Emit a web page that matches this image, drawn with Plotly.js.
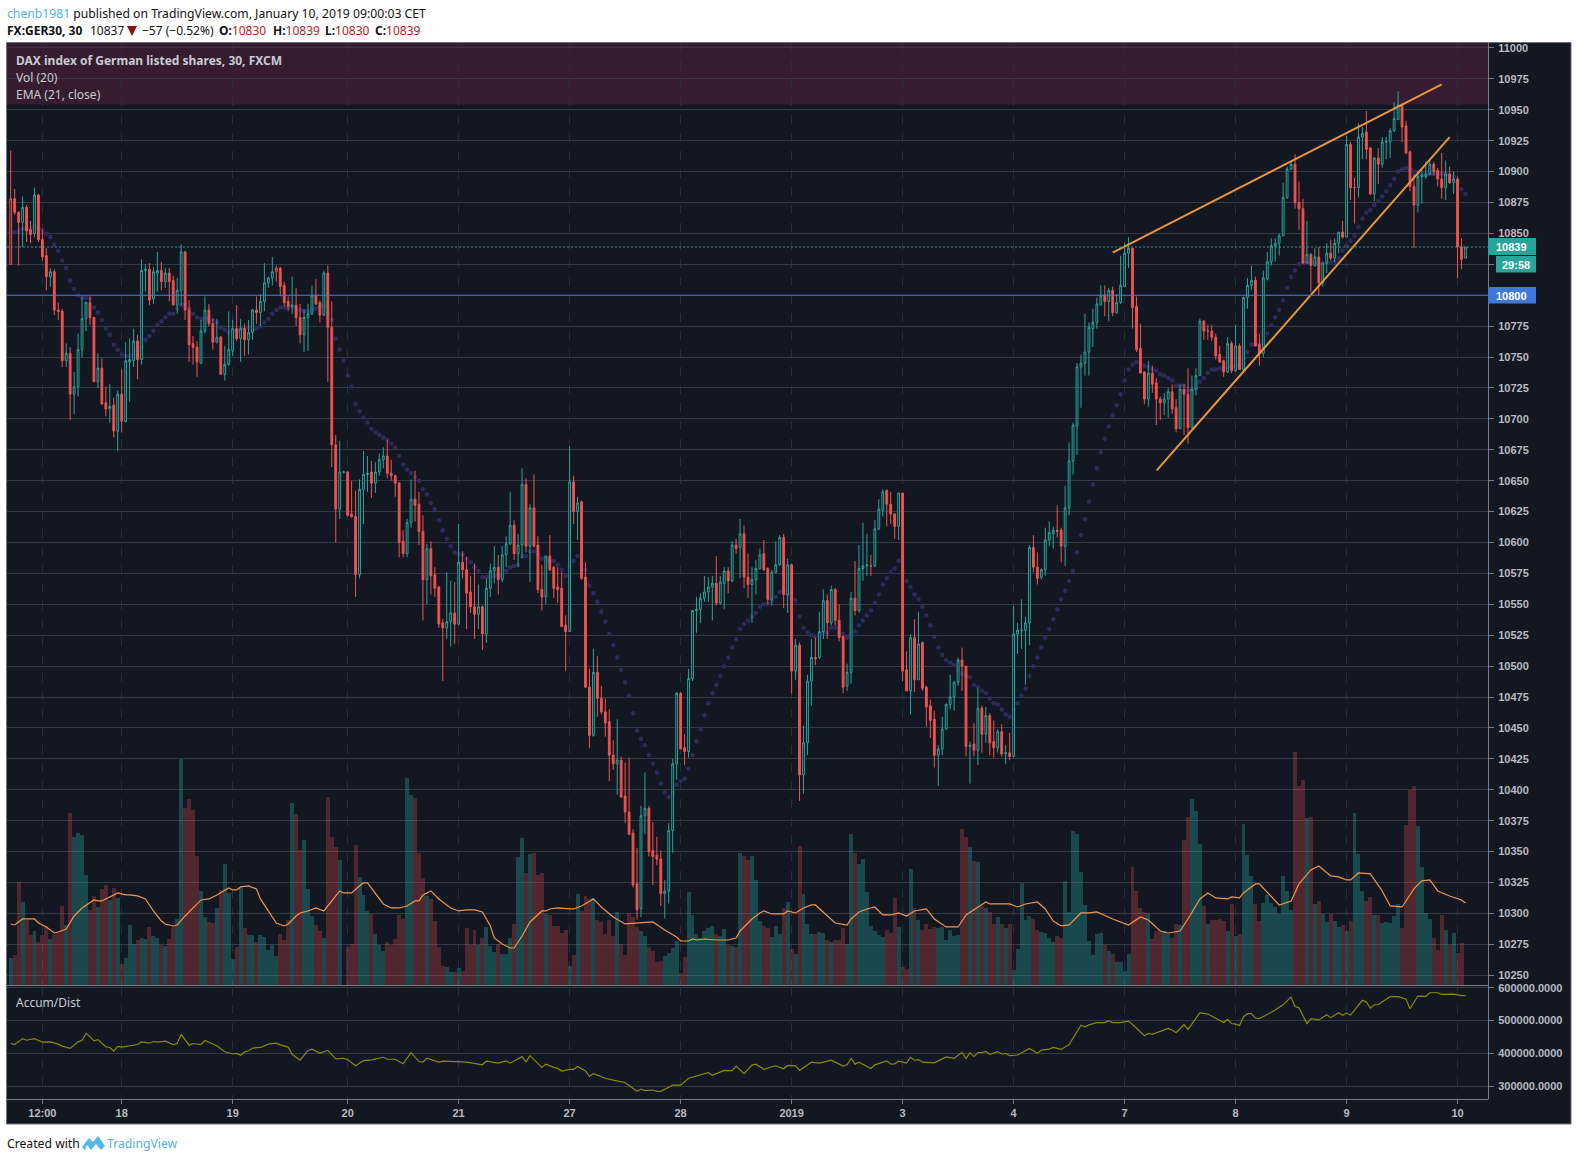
<!DOCTYPE html>
<html><head><meta charset="utf-8">
<script src="https://cdn.plot.ly/plotly-3.0.1.min.js"></script>
<style>html,body{margin:0;padding:0;background:#fff}#c{width:1577px;height:1161px}</style>
</head><body><div id="c"></div>
<script>
// candle rows: open, high, low, close
const candlesA=[[10825,10917,10825,10878],[10878,10886,10865,10867],[10867,10868,10824,10859],[10859,10880,10839,10871],[10871,10873,10843,10852],[10853,10860,10842,10849],[10850,10887,10847,10881],[10881,10882,10843,10845],[10845,10853,10828,10831],[10832,10838,10804,10815],
[10815,10822,10807,10819],[10819,10821,10784,10788],[10788,10794,10780,10787],[10787,10789,10742,10747],[10747,10761,10742,10753],[10753,10758,10699,10720],[10720,10738,10704,10726],[10726,10769,10718,10756],[10756,10799,10750,10781],[10781,10795,10771,10794],
[10794,10799,10776,10782],[10782,10782,10730,10730],[10730,10753,10725,10741],[10741,10749,10712,10712],[10713,10726,10702,10708],[10708,10728,10697,10710],[10711,10717,10685,10690],[10690,10723,10674,10720],[10720,10740,10689,10698],[10698,10762,10697,10747],
[10746,10765,10714,10748],[10747,10773,10742,10763],[10763,10768,10732,10748],[10748,10829,10744,10820],[10820,10825,10803,10821],[10821,10826,10792,10796],[10797,10823,10793,10819],[10818,10835,10803,10820],[10820,10827,10804,10811],[10811,10822,10806,10818],
[10818,10822,10795,10811],[10812,10816,10792,10792],[10792,10814,10785,10804],[10804,10841,10792,10835],[10835,10836,10780,10788],[10788,10796,10746,10760],[10761,10767,10744,10758],[10758,10763,10734,10746],[10745,10780,10745,10771],[10771,10799,10769,10788],
[10788,10793,10775,10777],[10777,10781,10756,10762],[10762,10781,10761,10766],[10766,10767,10736,10736],[10736,10759,10731,10744],[10744,10787,10743,10756],[10755,10780,10751,10773],[10773,10792,10763,10765],[10765,10781,10746,10773],[10773,10777,10751,10764],
[10764,10780,10752,10770],[10770,10789,10764,10788],[10788,10799,10777,10786],[10786,10801,10775,10795],[10795,10826,10787,10810],[10810,10815,10806,10814],[10814,10831,10808,10819],[10819,10824,10811,10822],[10822,10823,10799,10807],[10808,10811,10791,10794],
[10795,10799,10787,10791],[10791,10815,10785,10792],[10792,10806,10775,10782],[10782,10793,10761,10768],[10768,10789,10754,10782],[10782,10793,10755,10785],[10785,10808,10784,10800],[10800,10813,10792,10793],[10794,10796,10778,10784],[10784,10820,10783,10818],
[10818,10824,10730,10774],[10774,10795,10661,10679],[10679,10687,10600,10627]];
const candlesB=[[10627,10682,10619,10657],[10657,10658,10656,10657],[10657,10658,10621,10622],[10623,10650,10620,10621],[10621,10642,10556,10574],[10574,10651,10571,10643],[10643,10674,10615,10655],[10655,10670,10641,10656],[10657,10666,10636,10648],[10648,10665,10640,10657],
[10657,10672,10654,10667],[10667,10677,10660,10670],[10670,10683,10652,10656],[10656,10667,10650,10654],[10654,10655,10637,10648],[10648,10649,10588,10600],[10601,10610,10588,10591],[10591,10619,10588,10616],[10616,10651,10612,10635],[10635,10658,10617,10630],
[10631,10641,10598,10609],[10609,10622,10537,10570],[10570,10599,10550,10595],[10595,10601,10558,10573],[10574,10580,10556,10563],[10564,10565,10531,10534],[10535,10538,10488,10531],[10531,10576,10522,10536],[10536,10569,10516,10543],[10543,10568,10518,10534],
[10534,10615,10533,10584],[10584,10593,10571,10578],[10578,10588,10530,10559],[10560,10573,10543,10548],[10548,10583,10522,10542],[10542,10566,10530,10548],[10548,10549,10513,10526],[10526,10571,10519,10563],[10563,10583,10556,10577],[10577,10597,10567,10580],
[10580,10590,10558,10570],[10570,10597,10568,10590],[10590,10605,10580,10599],[10599,10641,10598,10614],[10614,10618,10586,10591],[10591,10607,10580,10598],[10598,10660,10587,10647],[10647,10652,10592,10597],[10597,10631,10568,10628],[10628,10655,10596,10597],
[10598,10605,10559,10562],[10562,10582,10545,10556],[10556,10589,10550,10589],[10589,10606,10577,10578],[10580,10581,10555,10563],[10564,10580,10551,10562],[10563,10576,10532,10532],[10533,10541,10496,10528],[10528,10678,10528,10649],[10649,10654,10615,10625],
[10625,10637,10602,10632],[10633,10634,10570,10571],[10572,10584,10483,10483],[10483,10498,10434,10444],[10444,10514,10443,10495],[10495,10508,10459,10474],[10474,10484,10461,10463],[10463,10474,10443,10454],[10455,10465,10407,10428],[10428,10440,10416,10421],
[10421,10457,10396,10424],[10424,10427,10394,10394],[10395,10422,10373,10382],[10382,10426,10364,10364],[10365,10368,10321,10323],[10324,10353,10295,10303],[10304,10387,10297,10379],[10379,10414,10364,10385],[10385,10387,10346,10350],[10351,10374,10323,10346],
[10347,10362,10339,10344],[10344,10351,10306,10316],[10316,10327,10296,10318],[10318,10373,10308,10367],[10367,10425,10349,10421],[10421,10479,10408,10478],[10478,10479,10433,10433],[10434,10445,10420,10431],[10431,10498,10426,10490]];
const candlesC=[[10490,10545,10488,10545],[10545,10556,10527,10546],[10546,10559,10535,10555],[10555,10573,10552,10560],[10560,10572,10552,10564],[10564,10573,10537,10567],[10567,10589,10549,10551],[10551,10573,10550,10568],[10567,10580,10546,10577],[10577,10580,10559,10569],
[10569,10601,10568,10598],[10598,10603,10591,10595],[10596,10619,10571,10607],[10607,10614,10563,10572],[10572,10591,10555,10566],[10566,10580,10535,10570],[10570,10586,10558,10579],[10579,10595,10578,10590],[10591,10602,10577,10578],[10579,10580,10550,10554],
[10554,10578,10549,10576],[10576,10601,10575,10582],[10582,10606,10581,10604],[10604,10607,10547,10558],[10558,10587,10543,10582],[10582,10583,10478,10496],[10496,10522,10489,10517],[10517,10519,10391,10412],[10412,10452,10397,10438],[10438,10493,10428,10488],
[10488,10522,10468,10507],[10507,10523,10501,10506],[10507,10544,10506,10528],[10528,10562,10522,10553],[10553,10558,10522,10535],[10535,10565,10533,10562],[10562,10563,10533,10537],[10537,10550,10520,10523],[10524,10525,10478,10483],[10484,10502,10480,10495],
[10495,10560,10486,10555],[10555,10585,10541,10545],[10545,10598,10543,10579],[10579,10616,10569,10581],[10581,10607,10573,10582],[10581,10590,10573,10581],[10581,10618,10580,10611],[10611,10635,10610,10627],[10626,10643,10621,10641],[10642,10643,10613,10631],
[10631,10641,10615,10623],[10623,10624,10603,10613],[10613,10640,10602,10640],[10640,10640,10488,10496],[10497,10512,10480,10480],[10480,10526,10461,10523],[10523,10538,10479,10489],[10489,10544,10489,10518],[10519,10520,10480,10482],[10483,10484,10451,10467],
[10468,10473,10442,10456],[10457,10464,10418,10428],[10428,10436,10403,10433],[10433,10459,10428,10449],[10449,10470,10449,10469],[10469,10493,10465,10475],[10475,10488,10464,10487],[10487,10507,10484,10505],[10505,10515,10480,10500],[10500,10500,10427,10435],
[10435,10439,10405,10436],[10437,10454,10427,10432],[10432,10482,10420,10466],[10466,10468,10430,10445],[10445,10467,10438,10460],[10460,10462,10428,10438],[10439,10456,10426,10434],[10434,10449,10430,10447],[10447,10453,10427,10429],[10429,10436,10421,10430],
[10430,10446,10424,10427],[10427,10549,10426,10526],[10526,10535,10510,10529],[10529,10554,10514,10529],[10529,10540,10485,10535],[10535,10598,10517,10596],[10596,10606,10576,10580],[10580,10592,10566,10571]];
const candlesD=[[10572,10579,10570,10578],[10578,10612,10573,10602],[10602,10617,10597,10608],[10607,10613,10595,10610],[10610,10630,10604,10609],[10610,10612,10584,10597],[10597,10646,10581,10628],[10628,10681,10622,10666],[10666,10697,10655,10695],[10694,10745,10671,10742],
[10742,10752,10709,10745],[10745,10785,10735,10754],[10754,10778,10735,10774],[10773,10789,10758,10778],[10778,10798,10773,10793],[10792,10808,10792,10800],[10800,10808,10783,10795],[10795,10806,10779,10804],[10804,10807,10783,10786],[10786,10801,10785,10794],
[10794,10832,10793,10808],[10807,10842,10807,10834],[10834,10847,10822,10838],[10838,10838,10773,10790],[10791,10799,10754,10756],[10757,10777,10737,10737],[10738,10738,10712,10716],[10716,10747,10710,10737],[10737,10743,10721,10728],[10729,10733,10695,10716],
[10716,10718,10699,10713],[10713,10721,10703,10716],[10716,10725,10701,10722],[10722,10728,10704,10708],[10709,10716,10689,10692],[10692,10728,10692,10724],[10724,10728,10687,10720],[10720,10741,10680,10693],[10693,10735,10692,10724],[10724,10741,10719,10735],
[10735,10781,10735,10779],[10779,10780,10764,10771],[10771,10776,10764,10771],[10771,10776,10763,10766],[10766,10769,10748,10751],[10752,10759,10745,10746],[10747,10748,10734,10738],[10738,10766,10737,10761],[10761,10763,10737,10739],[10739,10776,10738,10759],
[10759,10761,10740,10740],[10740,10799,10740,10798],[10798,10814,10789,10808],[10808,10824,10804,10812],[10812,10815,10759,10759],[10760,10769,10743,10753],[10753,10820,10750,10814],[10813,10835,10812,10827],[10827,10846,10824,10840],[10840,10846,10827,10842],
[10842,10850,10832,10848],[10848,10891,10848,10879],[10879,10904,10878,10902],[10902,10909,10901,10906],[10906,10914,10870,10875],[10875,10892,10853,10870],[10870,10878,10826,10826],[10826,10860,10826,10833],[10833,10834,10803,10824],[10824,10838,10823,10831],
[10831,10839,10800,10810],[10810,10826,10807,10826],[10826,10842,10818,10834],[10834,10845,10828,10830],[10830,10846,10827,10842],[10842,10851,10834,10851],[10851,10860,10846,10847],[10847,10929,10847,10922],[10922,10924,10877,10887],[10887,10895,10858,10887],
[10887,10939,10879,10928],[10928,10936,10910,10931],[10932,10949,10910,10918],[10919,10920,10881,10882],[10882,10912,10876,10911],[10911,10919,10890,10906],[10906,10928,10903,10924],[10924,10928,10910,10924],[10924,10935,10911,10933],[10933,10956,10932,10943],
[10942,10965,10942,10954],[10954,10955,10924,10936],[10937,10941,10914,10915],[10916,10917,10884,10888],[10888,10898,10838,10873],[10873,10901,10867,10896],[10896,10903,10874,10897],[10896,10908,10894,10898],[10898,10909,10897,10906],[10906,10908,10897,10900],
[10901,10903,10888,10894],[10894,10915,10878,10887],[10887,10909,10877,10898],[10898,10904,10890,10891],[10891,10900,10882,10894],[10894,10896,10814,10839],[10839,10846,10821,10829],[10830,10839,10830,10839]];
const hollowRedBars=[1,68];
const volumeA=[28,31,104,84,66,51,55,44,51,60,47,51,53,80,61,173,149,153,151,111,76,90,79,97,101,86,98,88,22,28,61,42,46,48,47,59,50,48,41,40,47,59,67,227,178,187,176,130,95,69,64,63,78,96,122,93,27,39,98,58,51,51,44,51,49,36,41,30,52,46,66,183,172,136,146,97,70,61,55,48,189,149,139,126,0,39,42,141,109,91,75,72,52,41,35,44,41,47,71,67,208,191,188,133,108,90,87,65,39,20,19,14,14,18,15,58,41,56,41,48,59,40,34,42,32,32,48,62,129];
const volumeB=[148,113,132,133,111,113,72,71,60,60,53,56,20,31,92,75,90,87,88,66,64,52,66,50,74,42,31,73,69,59,55,50,39,35,24,25,30,33,38,45,13,29,94,71,52,48,55,58,60,52,50,57,41,40,39,133,130,126,130,106,65,60,58,49,60,52,78,84,37,32,140,92,62,52,52,54,53,46,44,46,46,58,42,152,133,122,127,94,60,55,51,49,56,53,88,59,19,17,117,78,66,56,62,57,59,58,59,46,56,50,51,157,149,139,125,124,80,78,74,62,69,62,58,62,16,37];
const volumeC=[103,66,70,67,56,54,53,48,44,50,48,105,74,155,152,114,81,45,31,52,53,41,35,32,24,24,15,32,119,95,78,74,73,47,55,55,55,52,48,62,61,146,169,187,175,142,80,62,66,66,67,65,55,82,50,52,162,131,110,82,65,83,91,83,79,72,110,95,76,234,200,206,168,169,82,85,72,64,72,65,59,61,55,65,173,132,95,85,89,71,71,63,64,63,70,82,58,161,196,200,160,119,73,67,48,36,71,56,41,53,33,43,1];
const emaCloseA=[10851,10851,10852,10854,10854,10854,10856,10854,10853,10850,10847,10841,10836,10828,10822,10812,10805,10800,10798,10798,10797,10790,10786,10780,10773,10768,10760,10756,10752,10751,10751,10752,10755,10758,10764,10767,10771,10776,10779,10782,10785,10785,10789,10792,10793,10789,10785,10782,10781,10781,10782,10780,10778,10774,10772,10770,10771,10771,10773,10773,10774,10771,10773,10775,10778,10781,10785,10788,10790,10790,10790,10790,10789,10788,10787,10787,10788,10789,10791,10791,10785,10780,10765,10756,10747,10735,10726,10712,10706,10701,10697];
const emaCloseB=[10692,10689,10687,10685,10683,10680,10677,10670,10663,10659,10656,10653,10650,10643,10639,10632,10627,10618,10610,10603,10597,10592,10591,10590,10587,10584,10580,10577,10572,10572,10572,10573,10573,10574,10577,10580,10581,10582,10589,10589,10593,10593,10590,10587,10586,10585,10585,10582,10578,10573,10581,10585,10589,10583,10578,10565,10559,10552,10544,10536,10526,10517,10507,10497,10487,10476,10462,10448,10441,10436,10428,10421,10414,10405,10398,10394,10397,10404,10407,10409,10417];
const emaCloseC=[10428,10439,10449,10460,10470,10478,10485,10492,10500,10507,10515,10522,10530,10534,10537,10540,10543,10548,10550,10550,10553,10556,10560,10562,10558,10555,10553,10540,10531,10527,10525,10524,10525,10527,10527,10531,10531,10527,10526,10523,10526,10528,10533,10537,10541,10545,10551,10558,10566,10571,10576,10579,10585,10577,10569,10564,10558,10554,10548,10541,10533,10524,10515,10509,10505,10503,10501,10497,10494,10492,10491,10485,10483,10480,10478,10474,10470,10469,10465,10461,10459,10465,10470,10476,10482,10492,10500,10507];
const emaCloseD=[10515,10523,10530,10538,10546,10554,10561,10569,10577,10592,10606,10619,10633,10647,10660,10673,10684,10694,10703,10711,10720,10731,10740,10744,10746,10745,10743,10742,10740,10739,10736,10735,10733,10731,10727,10727,10727,10723,10723,10725,10730,10733,10737,10740,10740,10741,10741,10742,10742,10743,10744,10749,10754,10760,10760,10760,10763,10769,10776,10782,10788,10796,10806,10815,10820,10825,10826,10826,10826,10826,10825,10826,10826,10826,10827,10830,10836,10840,10844,10848,10855,10862,10867,10869,10873,10876,10880,10884,10889,10894,10900,10902,10903,10902,10900,10898,10897,10897,10898,10898,10898,10898,10898,10897,10896,10892,10886,10882];
const volMaBars=[1,2,4,5,7,8,10,12,13,15,17,19,22,23,24,28,29,30,31,33,35,37,39,40,42,43,45,47,48,49,51,53,56,57,58,59,61,63,64,67,68,70,71,73,74,76,78,80,82,84,85,87,89,90,91,93,95,97,99,101,103,104,105,107,109,112,114,116,118,120,122,123,125,127,128,130,132,135,136,137,139,142,143,145,148,150,153,156,159,163,166,168,169,170,172,173,174,176,179,182,184,185,188,190,191,193,196,197,199,201,203,204,207,209,212,213,215,217,219,221,223,225,227,229,232,234,237,240,242,244,247,248,253,255,257,260,262,264,266,268,271,273,275,279,283,286,288,291,293,296,298,301,303,305,308,309,311,312,315,316,321,324,326,329,331,334,336,338,339,341,344,347,349,352,355,357,359,361,364,367,368];
const volMaValues=[62,61,67,67,67,63,59,53,54,57,70,78,86,85,85,93,92,91,91,90,87,75,65,62,60,61,70,78,82,86,87,91,98,96,96,99,100,97,87,68,63,60,62,70,73,75,78,75,85,95,93,93,100,103,103,92,82,78,78,80,85,85,91,95,87,78,75,76,76,74,60,48,42,38,38,50,64,75,75,77,78,77,77,80,87,79,69,62,63,64,56,51,49,45,45,47,46,47,46,46,48,55,67,73,75,72,72,75,73,78,81,81,70,63,61,67,74,77,79,71,71,73,70,75,77,67,59,59,71,76,84,82,82,79,82,84,77,65,60,61,73,73,74,67,61,69,66,55,53,55,67,87,93,88,87,89,88,93,102,102,81,85,102,116,120,110,109,106,106,113,112,95,80,79,97,105,106,95,90,86,83];
const adlBars=[1,2,4,5,7,9,11,13,14,16,18,19,20,21,22,23,25,26,27,28,29,32,33,34,36,37,38,40,42,43,44,46,47,49,50,53,55,57,58,59,60,61,62,64,66,68,69,71,72,74,76,77,79,81,83,85,86,88,90,92,95,96,98,100,102,104,105,106,109,110,116,120,121,124,126,127,130,131,132,135,136,138,139,140,142,143,144,146,147,148,151,153,156,159,160,161,163,164,165,168,170,172,175,177,178,180,181,183,184,186,188,189,191,193,194,195,196,197,199,200,203,205,207,208,211,212,213,214,215,218,219,222,223,224,225,227,228,229,230,231,234,236,237,239,241,242,243,244,245,246,247,248,250,251,252,253,255,258,260,261,263,264,266,268,271,272,273,275,277,278,279,281,283,284,287,288,289,293,294,295,297,298,299,301,303,307,308,309,310,311,312,313,314,315,316,318,320,322,324,325,326,328,329,331,333,334,336,337,338,339,342,343,344,345,346,349,351,353,354,356,358,359,361,362,363,365,367,368];
const adlValues=[430000,427000,445000,440000,445000,434000,435000,428000,422000,415000,435000,440000,461000,451000,438000,442000,420000,418000,407000,421000,419000,425000,427000,435000,431000,436000,434000,437000,427000,430000,458000,425000,430000,427000,439000,423000,405000,398000,400000,394000,404000,408000,416000,418000,428000,431000,426000,419000,397000,379000,409000,413000,401000,409000,383000,385000,381000,362000,378000,380000,388000,382000,382000,368000,402000,375000,373000,385000,373000,376000,373000,365000,376000,370000,377000,370000,390000,374000,393000,357000,367000,357000,354000,346000,351000,351000,360000,346000,330000,338000,324000,318000,311000,284000,291000,286000,288000,284000,284000,303000,303000,324000,333000,341000,333000,344000,348000,347000,361000,338000,364000,367000,351000,359000,362000,357000,353000,363000,362000,348000,373000,370000,375000,379000,361000,365000,385000,367000,373000,354000,365000,377000,367000,368000,376000,370000,388000,379000,381000,373000,371000,383000,389000,385000,403000,384000,402000,390000,402000,402000,406000,397000,405000,398000,400000,393000,395000,415000,400000,410000,413000,418000,412000,427000,486000,481000,487000,494000,494000,500000,494000,494000,498000,488000,454000,461000,458000,476000,471000,463000,488000,473000,491000,524000,520000,494000,504000,491000,489000,485000,512000,521000,521000,508000,506000,518000,532000,548000,572000,543000,539000,491000,506000,502000,518000,509000,524000,516000,523000,517000,562000,557000,538000,548000,549000,573000,573000,565000,536000,575000,574000,585000,585000,580000,581000,581000,576000,576000];
const tickBars=[9,29,57,86,114,142,170,198,226,254,282,310,338,366];
const tickNames=['12:00','18','19','20','21','27','28','<b>2019</b>','3','4','7','8','9','10'];
const priceTicks=[10250,10275,10300,10325,10350,10375,10400,10425,10450,10475,10500,10525,10550,10575,10600,10625,10650,10675,10700,10725,10750,10775,10800,10825,10850,10875,10900,10925,10950,10975,11000];
const priceTickLabels=['10250','10275','10300','10325','10350','10375','10400','10425','10450','10475','10500','10525','10550','10575','10600','10625','10650','10675','10700','10725','10750','10775','','','10850','10875','10900','10925','10950','10975','11000'];
const trendUpperBars=[279,362], trendUpperPrices=[10834.4,10970.5];
const trendLowerBars=[290.1,364], trendLowerPrices=[10658.4,10927.9];

// layout geometry (pixels of the page)
const PL=7,PR=1488,PT=43,PB=1099,SPLIT=986;
const px=x=>(x-PL)/(PR-PL), py=y=>(PB-y)/(PB-PT);
const rows=[...candlesA,...candlesB,...candlesC,...candlesD];
const bars=rows.map((_,i)=>i+1);
const isHollow=i=>hollowRedBars.includes(i+1);
const pick=(k,hollow)=>rows.map((r,i)=>isHollow(i)===hollow?r[k]:null);
const volume=[...volumeA,...volumeB,...volumeC];
const ema=[...emaCloseA,...emaCloseB,...emaCloseC,...emaCloseD];
const volColors=rows.map(r=>r[3]>=r[0]?'rgba(38,166,154,0.35)':'rgba(239,83,80,0.28)');
const GREEN='#26a69a',RED='#ef5350',BG='#131722',ORANGE='#e8963c',AXTXT='#b8bbc2';

const traces=[
 {type:'bar',x:bars,y:volume,marker:{color:volColors,line:{width:0}},xaxis:'x',yaxis:'y',hoverinfo:'skip'},
 {type:'scatter',mode:'lines',x:volMaBars,y:volMaValues,line:{color:'#f0954a',width:1.2},xaxis:'x',yaxis:'y',hoverinfo:'skip'},
 {type:'scatter',mode:'markers',x:bars,y:ema,marker:{color:'#302a5c',size:4.5},xaxis:'x',yaxis:'y3',hoverinfo:'skip'},
 {type:'candlestick',x:bars,open:pick(0,false),high:pick(1,false),low:pick(2,false),close:pick(3,false),xaxis:'x',yaxis:'y4',whiskerwidth:0,
  increasing:{line:{color:GREEN,width:1},fillcolor:BG},decreasing:{line:{color:RED,width:1},fillcolor:RED},hoverinfo:'skip'},
 {type:'candlestick',x:bars,open:pick(0,true),high:pick(1,true),low:pick(2,true),close:pick(3,true),xaxis:'x',yaxis:'y4',whiskerwidth:0,
  increasing:{line:{color:RED,width:1},fillcolor:BG},decreasing:{line:{color:RED,width:1},fillcolor:RED},hoverinfo:'skip'},
 {type:'scatter',mode:'lines',x:trendUpperBars,y:trendUpperPrices,line:{color:ORANGE,width:2},xaxis:'x',yaxis:'y4',hoverinfo:'skip'},
 {type:'scatter',mode:'lines',x:trendLowerBars,y:trendLowerPrices,line:{color:ORANGE,width:2},xaxis:'x',yaxis:'y4',hoverinfo:'skip'},
 {type:'scatter',mode:'lines',x:adlBars,y:adlValues,line:{color:'#8a8a08',width:1.2},xaxis:'x',yaxis:'y2',hoverinfo:'skip'}
];
const rectPx=(x0,y0,x1,y1,fill,layer,lineColor)=>({type:'rect',xref:'paper',yref:'paper',x0:px(x0),x1:px(x1),y0:py(y0),y1:py(y1),fillcolor:fill,line:{width:lineColor?1:0,color:lineColor||fill},layer:layer});
const linePx=(x0,y0,x1,y1,c)=>({type:'line',xref:'paper',yref:'paper',x0:px(x0),x1:px(x1),y0:py(y0),y1:py(y1),line:{color:c,width:1},layer:'above'});
const polyPx=(pts,fill)=>({type:'path',xref:'paper',yref:'paper',path:'M '+pts.map(p=>px(p[0])+' '+py(p[1])).join(' L ')+' Z',fillcolor:fill,line:{width:0},layer:'above'});
const logoPts=[[82,1147],[89,1138],[93,1142],[98,1136],[105,1146],[101,1150],[96,1144],[91,1150],[87,1145],[85,1150]];
const shapes=[
 rectPx(6.5,42.5,1571,1124,BG,'below','#6f7278'),
 {type:'rect',xref:'paper',yref:'y4',x0:0,x1:1,y0:10954,y1:11004,fillcolor:'#351c30',line:{width:0},layer:'below'},
 {type:'line',xref:'paper',yref:'y4',x0:0,x1:1,y0:10800,y1:10800,line:{color:'#3f78d4',width:1},layer:'above'},
 {type:'line',xref:'paper',yref:'y4',x0:0,x1:1,y0:10839,y1:10839,line:{color:GREEN,width:1,dash:'2px 2px'},layer:'above'},
 linePx(6.5,985.5,1488,985.5,'#787b86'),
 linePx(6.5,1099.5,1488,1099.5,'#787b86'),
 linePx(1488.5,42.5,1488.5,1099.5,'#787b86'),
 rectPx(1488,238,1536,255,GREEN,'above'),
 rectPx(1496,256,1536,272.5,GREEN,'above'),
 rectPx(1488,287,1536,303.5,'#3f78d8','above'),
 polyPx([[127,26],[137,26],[132,36]],'#8b1010'),
 polyPx(logoPts,'#55b7e8')
];
const note=(x,y,text,size,color,family,anchor)=>({xref:'paper',yref:'paper',x:px(anchor?x:x-1.5),y:py(y),xanchor:anchor||'left',yanchor:'middle',text:text,showarrow:false,align:'left',font:{size:size,color:color,family:family||'Noto Sans'}});
const R=t=>'<span style="color:#b71c1c">'+t+'</span>';
const annotations=[
 note(6,13,'<span style="color:#4fb5e5">chenb1981</span> published on TradingView.com, January 10, 2019 09:00:03 CET',12.2,'#111'),
 note(6,30,'<b>FX:GER30, 30</b>',12,'#111'),
 note(89,30,'10837',12,'#111'),
 note(141,30,'−57 (−0.52%)',12,'#111'),
 note(218,30,'<b>O:</b>'+R('10830'),12,'#111'),
 note(272,30,'<b>H:</b>'+R('10839'),12,'#111'),
 note(324,30,'<b>L:</b>'+R('10830'),12,'#111'),
 note(374,30,'<b>C:</b>'+R('10839'),12,'#111'),
 note(15,60.5,'<b>DAX index of German listed shares, 30, FXCM</b>',12,'#c9cbd1'),
 note(15,77.5,'Vol (20)',12,'#c9cbd1'),
 note(15,95,'EMA (21, close)',12,'#c9cbd1'),
 note(15,1002.5,'Accum/Dist',12,'#c9cbd1'),
 note(1512,246.5,'<b>10839</b>',11,'#fff','Liberation Sans','center'),
 note(1516,264.5,'<b>29:58</b>',11,'#fff','Liberation Sans','center'),
 note(1512,295.5,'<b>10800</b>',11,'#fff','Liberation Sans','center'),
 note(6,1143,'Created with',12.2,'#111'),
 note(106,1143,'TradingView',12.2,'#4fb5e5')
];
const d0=(PB-SPLIT)/(PB-PT);
const priceRange=[10241.3,11004];
const tickFont={family:'Liberation Sans',size:11,color:AXTXT,weight:'bold'};
const layout={
 width:1577,height:1161,autosize:false,paper_bgcolor:'#ffffff',plot_bgcolor:'rgba(0,0,0,0)',
 margin:{l:PL,r:1577-PR,t:PT,b:1161-PB,pad:0},showlegend:false,hovermode:false,bargap:0,boxgap:0.35,boxmode:'overlay',
 font:{family:'Liberation Sans',size:11,color:AXTXT},
 xaxis:{range:[0.067,373.68],anchor:'y2',rangeslider:{visible:false},tickmode:'array',tickvals:tickBars,ticktext:tickNames,showgrid:true,griddash:'dash',gridcolor:'#2a2e39',gridwidth:1,ticks:'outside',ticklen:4,tickcolor:'#787b86',zeroline:false,showline:false,tickfont:tickFont},
 yaxis:{domain:[d0,1],range:[0,942.5],visible:false,fixedrange:true,anchor:'x'},
 yaxis3:{domain:[d0,1],range:priceRange,overlaying:'y',visible:false,anchor:'x'},
 yaxis4:{domain:[d0,1],range:priceRange,overlaying:'y',side:'right',anchor:'x',tickmode:'array',tickvals:priceTicks,ticktext:priceTickLabels,showgrid:true,gridcolor:'#363a45',gridwidth:1,zeroline:false,showline:false,ticks:'outside',ticklen:5,tickcolor:'#787b86',ticklabelstandoff:2,tickfont:tickFont},
 yaxis2:{domain:[0,d0-0.0005],range:[260600,604000],side:'right',anchor:'x',tick0:300000,dtick:100000,tickformat:'.4f',showgrid:true,gridcolor:'#363a45',gridwidth:1,zeroline:false,showline:false,ticks:'outside',ticklen:5,tickcolor:'#787b86',ticklabelstandoff:2,tickfont:tickFont},
 shapes:shapes,annotations:annotations
};
Plotly.newPlot('c',traces,layout,{displayModeBar:false,staticPlot:true});
</script></body></html>
